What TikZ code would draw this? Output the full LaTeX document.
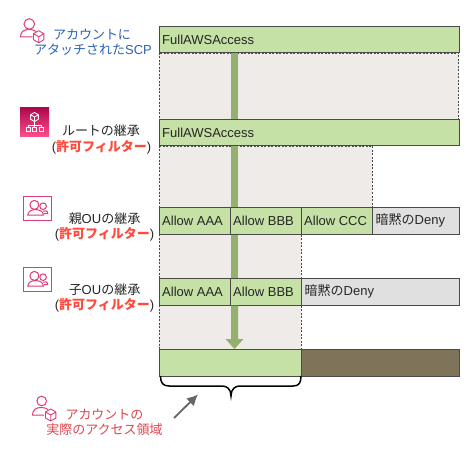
\documentclass[tikz,border=0pt]{standalone}
\usetikzlibrary{arrows.meta}
\usepackage{fontspec}
\setmainfont{Liberation Sans}
\newfontfamily\cjk{Noto Sans CJK JP}
\definecolor{grn}{HTML}{C5E1A5}
\definecolor{bgr}{HTML}{EEEBE8}
\definecolor{gry}{HTML}{E0E0E0}
\definecolor{brn}{HTML}{7F745A}
\definecolor{edge}{HTML}{4A4A4A}
\definecolor{arr}{HTML}{93B06F}
\definecolor{pnk}{HTML}{DE3B78}
\definecolor{blu}{HTML}{2A62B5}
\definecolor{rd}{HTML}{FF4A3D}
\definecolor{rdl}{HTML}{DD4650}
\definecolor{grada}{HTML}{B0084D}
\definecolor{gradb}{HTML}{FF4F8B}
\tikzset{
 x=1pt,y=-1pt,
 cell/.style={draw=edge,line width=.9pt,anchor=north west,inner sep=0pt,minimum height=26.5pt,text depth=0pt},
 lab/.style={font=\fontsize{13}{13}\selectfont,anchor=base,inner sep=0pt,text=#1},
 lab/.default=black!85,
 txt/.style={font=\fontsize{13}{13}\selectfont,anchor=west,inner sep=0pt,text=black!85},
 reg/.style={fill=bgr,draw=edge,dash pattern=on 2pt off 1.5pt,line width=.7pt},
 ico/.style={draw=pnk,line width=1pt,fill=none},
}
\newcommand{\cube}[4]{% x y r colour
 \draw[draw=#4,line width=.9pt,line join=round] (#1,#2-#3) -- (#1+.87*#3,#2-.5*#3) -- (#1+.87*#3,#2+.5*#3) -- (#1,#2+#3) -- (#1-.87*#3,#2+.5*#3) -- (#1-.87*#3,#2-.5*#3) -- cycle
  (#1-.87*#3,#2-.5*#3) -- (#1,#2) -- (#1+.87*#3,#2-.5*#3) (#1,#2) -- (#1,#2+#3);}
\newcommand{\persons}[2]{% frame x y
 \draw[ico] (#1,#2) rectangle ++(28.4,24.6);
 \draw[ico] (#1+19.7,#2+10) circle (3.3);
 \draw[ico] (#1+19.5,#2+15) .. controls (#1+22,#2+14) and (#1+24.4,#2+14.5) .. (#1+24.4,#2+17.5) -- (#1+20.5,#2+17.5);
 \draw[ico,fill=white] (#1+11,#2+8.7) circle (4.5);
 \draw[ico] (#1+4.4,#2+19) .. controls (#1+4.4,#2+11.5) and (#1+20,#2+11.5) .. (#1+20,#2+19) -- cycle;}
\begin{document}
\begin{tikzpicture}
\useasboundingbox (0,0) rectangle (472,452);
% regions
\path[reg] (159,53) rectangle (458.5,119);
\path[reg] (159,146) rectangle (372,207);
\path[reg] (159,234) rectangle (301,278);
\path[reg] (159,305) rectangle (301,349);
\fill[arr] (231,53) rectangle (238,119);
\fill[arr] (231,146.5) rectangle (238,207);
\fill[arr] (231,234.5) rectangle (238,278);
\node[cell,fill=grn,minimum width=300pt] (a1) at (158.8,26) {};
\node[txt] at (162,39.5) {FullAWSAccess};
\node[cell,fill=grn,minimum width=300pt] (a2) at (158.8,119) {};
\node[txt] at (162,132.5) {FullAWSAccess};
\node[cell,fill=grn,minimum width=71pt] (b1) at (158.8,207) {};
\node[cell,fill=grn,minimum width=71pt] (b2) at (229.8,207) {};
\node[cell,fill=grn,minimum width=71pt] (b3) at (300.8,207) {};
\node[cell,fill=gry,minimum width=87pt] (b4) at (371.8,207) {};
\node[txt] at (162,220.5) {Allow AAA};
\node[txt] at (233,220.5) {Allow BBB};
\node[txt] at (304,220.5) {Allow CCC};
\node[txt] at (375.5,220.5) {{\cjk 暗黙の}Deny};
\node[cell,fill=grn,minimum width=71pt] (c1) at (158.8,278) {};
\node[cell,fill=grn,minimum width=71pt] (c2) at (229.8,278) {};
\node[cell,fill=gry,minimum width=158pt] (c3) at (300.8,278) {};
\node[txt] at (162,291.5) {Allow AAA};
\node[txt] at (233,291.5) {Allow BBB};
\node[txt] at (304.5,291.5) {{\cjk 暗黙の}Deny};
\node[cell,fill=brn,minimum width=158pt] (d2) at (300.8,349) {};
\node[cell,fill=grn,minimum width=142pt] (d1) at (158.8,349) {};
\fill[arr] (231,305.5) rectangle (238,339) (225.5,339) -- (243.5,339) -- (234.5,349) -- cycle;
% brace
\draw[line width=1.5pt] (160.5,376) .. controls (160.5,383) and (163,386) .. (169,386) -- (222,386) .. controls (227,386) and (231,389) .. (231,396) .. controls (231,389) and (235,386) .. (240,386) -- (293,386) .. controls (299,386) and (301,383) .. (301,376);
% pointer
\coordinate (p0) at (174,418);
\coordinate (p1) at (198,394.5);
\draw[draw=black!60,line width=1.8pt,-{Latex[length=11pt,width=11pt]}] (p0) -- (p1);
% labels
\node[lab=blu] (l1a) at (92,40) {\cjk アカウントに};
\node[lab=blu] (l1b) at (93,55) {{\cjk アタッチされた}SCP};
\node[lab] (l2a) at (101,135.5) {\cjk ルートの継承};
\node[lab] (l2b) at (101.5,151.5) {({\cjk\bfseries\textcolor{rd}{許可フィルター}})};
\node[lab] (l3a) at (104.5,223) {{\cjk 親}OU{\cjk の継承}};
\node[lab] (l3b) at (104.5,238.5) {({\cjk\bfseries\textcolor{rd}{許可フィルター}})};
\node[lab] (l4a) at (104.5,294) {{\cjk 子}OU{\cjk の継承}};
\node[lab] (l4b) at (104.5,309.5) {({\cjk\bfseries\textcolor{rd}{許可フィルター}})};
\node[lab=rdl] (l5a) at (104.5,419) {\cjk アカウントの};
\node[lab=rdl] (l5b) at (104.5,434.5) {\cjk 実際のアクセス領域};
% icons
\draw[ico] (29.3,24) circle (5.3);
\draw[ico] (32.5,37) -- (20.5,37) .. controls (20.5,31.5) and (24,29.5) .. (29,29.5) .. controls (32,29.5) and (34,30) .. (36,31.5);
\cube{38.7}{36.7}{6}{pnk}
\draw[ico] (41.7,401) circle (4.8);
\draw[ico] (44,415) -- (32.5,415) .. controls (32.5,410) and (36,407.5) .. (41,407.5) .. controls (44,407.5) and (46,408) .. (48,409.5);
\cube{50.7}{415}{6}{pnk}
\shade[top color=grada,bottom color=gradb] (20,108) rectangle (49,137);
\cube{34.5}{117}{4.5}{white}
\draw[white,line width=.7pt] (34.5,122) -- (34.5,127.5) (28,127.5) -- (28,125) -- (41,125) -- (41,127.5)
 (26,127.5) rectangle (30,131) (32.5,127.5) rectangle (36.5,131) (39,127.5) rectangle (43,131);
\persons{23.4}{196.2}
\persons{23.4}{267.2}
\end{tikzpicture}
\end{document}
